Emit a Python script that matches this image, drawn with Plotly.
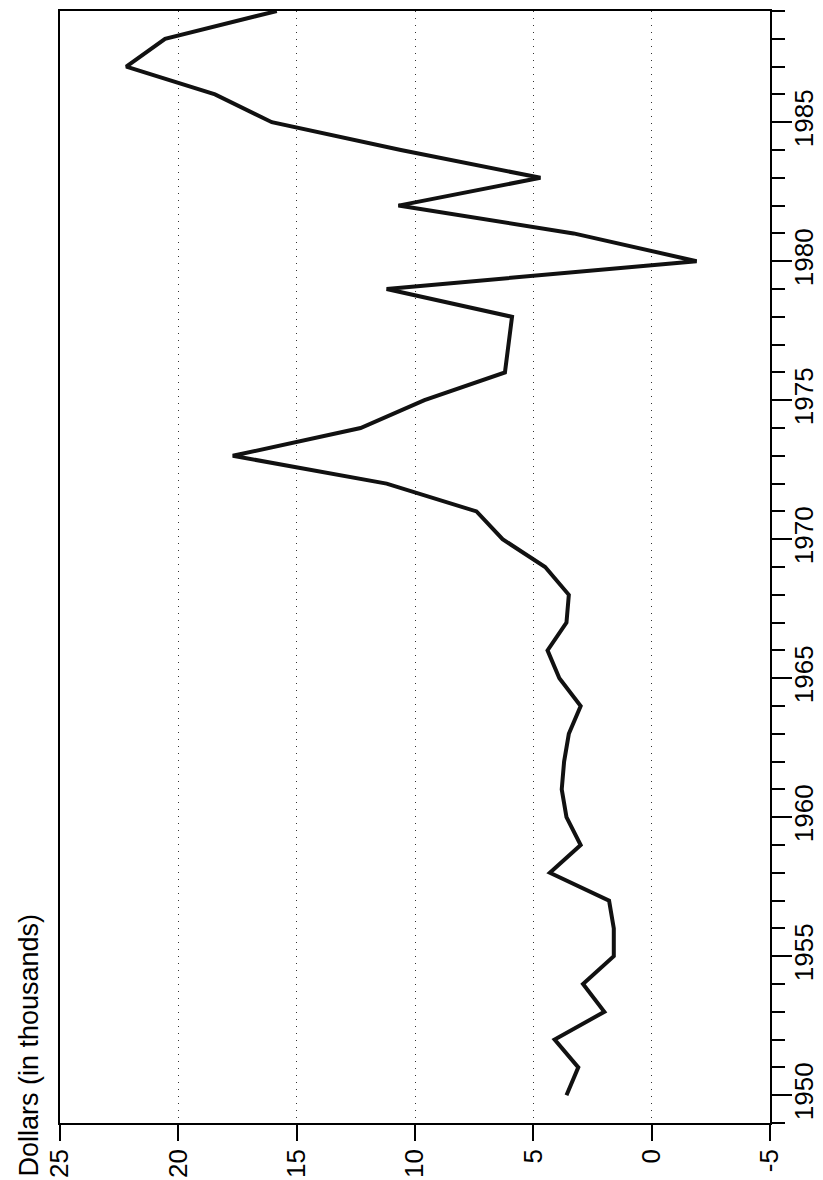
import plotly.graph_objects as go

years = list(range(1950, 1990))
dollars = [3.6, 3.1, 4.1, 2.0, 2.9, 1.6, 1.6, 1.8, 4.3, 3.0,
           3.6, 3.8, 3.7, 3.5, 3.0, 3.9, 4.4, 3.6, 3.5, 4.5,
           6.3, 7.4, 11.2, 17.7, 12.3, 9.6, 6.2, 6.05, 5.9, 11.2,
           -1.9, 3.3, 10.7, 4.7, 10.6, 16.05, 18.45, 22.2, 20.56, 15.84]

value_ticks = [25, 20, 15, 10, 5, 0, -5]
year_ticks = [1950, 1955, 1960, 1965, 1970, 1975, 1980, 1985]
title_text = "Dollars (in thousands)"

TICKFONT = "Liberation Sans Narrow, Arial Narrow, Liberation Sans, Arial, sans-serif"
TITLEFONT = "Liberation Sans, Arial, Helvetica, sans-serif"

fig = go.Figure()
fig.add_trace(go.Scatter(
    x=dollars, y=years, mode="lines",
    line=dict(color="#111111", width=4),
    showlegend=False, hoverinfo="skip",
))

# page body has an 8px default margin, so the figure is sized to fit the window
fig.update_layout(
    width=815, height=1172, autosize=False,
    margin=dict(l=52, r=53, t=3, b=57, pad=0),
    paper_bgcolor="white", plot_bgcolor="white",
    font=dict(family=TICKFONT, size=26, color="black"),
)

fig.update_xaxes(
    range=[25, -5], tickmode="array", tickvals=value_ticks,
    ticktext=[str(v) for v in value_ticks],
    ticks="outside", ticklen=16, tickwidth=1.5, tickcolor="black",
    tickangle=-90, ticklabelstandoff=-2, automargin=False,
    showline=True, linecolor="black", linewidth=1.5,
    mirror=True, showgrid=True, gridcolor="#333333", gridwidth=1,
    griddash="1px,6px", zeroline=False,
    tickfont=dict(family=TICKFONT, size=26),
)

fig.update_yaxes(
    range=[1949, 1989], side="right", tickmode="array", tickvals=year_ticks,
    ticktext=[str(v) for v in year_ticks], automargin=False,
    ticks="outside", ticklen=20, tickwidth=1.5, tickcolor="black",
    tickangle=-90, ticklabelstandoff=-10,
    showline=True, linecolor="black", linewidth=1.5,
    mirror=True, showgrid=False, zeroline=False,
    minor=dict(dtick=1, tick0=1949, ticks="outside", ticklen=13,
               tickwidth=1.5, tickcolor="black", showgrid=False),
    tickfont=dict(family=TICKFONT, size=26),
)

fig.add_annotation(
    text=title_text, xref="paper", yref="paper",
    x=-0.0437, y=-0.0495, xanchor="center", yanchor="bottom",
    textangle=-90, showarrow=False,
    font=dict(family=TITLEFONT, size=27, color="black"),
)

fig.write_html("out.html")
